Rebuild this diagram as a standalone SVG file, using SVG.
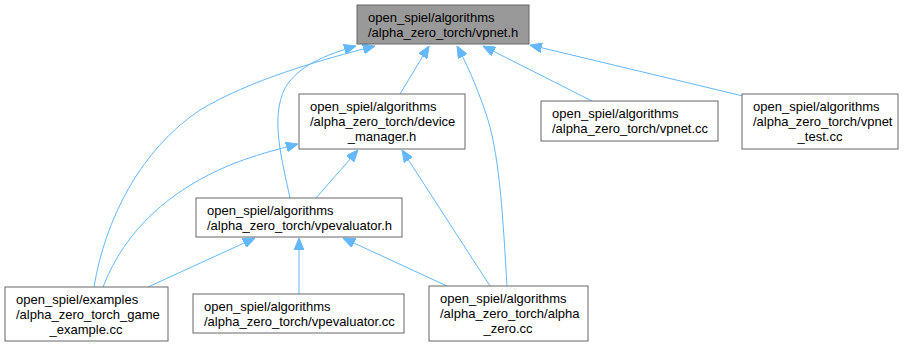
<svg xmlns="http://www.w3.org/2000/svg" width="909" height="347" viewBox="0 0 909 347">
  <style>
    .node rect { fill: #ffffff; stroke: #666666; stroke-width: 1; }
    .node.current rect { fill: #999999; }
    .node text { font-family: "Liberation Sans", Arial, Helvetica, sans-serif; font-size: 13px; fill: #000000; }
    .node text.c { text-anchor: middle; }
    .edges path { fill: none; stroke: #63b8ff; stroke-width: 1; marker-end: url(#arrow); }
  </style>
  <defs>
    <marker id="arrow" markerUnits="userSpaceOnUse" markerWidth="12" markerHeight="10" viewBox="0 0 12 10" refX="12" refY="5" orient="auto">
      <path d="M0,0 L12,5 L0,10 z" fill="#63b8ff" stroke="#63b8ff" stroke-width="1"/>
    </marker>
  </defs>
  <rect width="909" height="347" fill="#ffffff"/>

  <g class="edges">
    <!-- include dependencies: arrows point at the included header -->
    <path d="M400,94 L429,46"/>
    <path d="M290,198 C282,160 270,118 285,88 C298,66 325,55 356,46"/>
    <path d="M94,287 C105,220 140,150 200,110 C250,80 320,60 375,46"/>
    <path d="M507,286 C503,220 500,160 488,120 C480,95 470,70 457,46"/>
    <path d="M592,101 L483,46"/>
    <path d="M743,96 L530,45"/>
    <path d="M316,198 L358,150"/>
    <path d="M103,287 C125,230 170,190 230,165 C255,155 275,150 298,144"/>
    <path d="M490,286 L402,150"/>
    <path d="M148,287 L255,238"/>
    <path d="M299,294 L299,238"/>
    <path d="M447,286 L343,238"/>
  </g>

  <g id="vpnet_h" class="node current">
    <rect x="357" y="5" width="172" height="39"/>
    <text x="368" y="22">open_spiel/algorithms</text>
    <text x="368" y="37">/alpha_zero_torch/vpnet.h</text>
  </g>

  <g id="device_manager_h" class="node">
    <rect x="299" y="94" width="166" height="55"/>
    <text x="310" y="111">open_spiel/algorithms</text>
    <text x="310" y="126">/alpha_zero_torch/device</text>
    <text x="382" y="141" class="c">_manager.h</text>
  </g>

  <g id="vpnet_cc" class="node">
    <rect x="541" y="101" width="177" height="40"/>
    <text x="552" y="118">open_spiel/algorithms</text>
    <text x="552" y="133">/alpha_zero_torch/vpnet.cc</text>
  </g>

  <g id="vpnet_test_cc" class="node">
    <rect x="742" y="94" width="156" height="55"/>
    <text x="753" y="111">open_spiel/algorithms</text>
    <text x="753" y="126">/alpha_zero_torch/vpnet</text>
    <text x="820" y="141" class="c">_test.cc</text>
  </g>

  <g id="vpevaluator_h" class="node">
    <rect x="196" y="198" width="206" height="39"/>
    <text x="207" y="215">open_spiel/algorithms</text>
    <text x="207" y="230">/alpha_zero_torch/vpevaluator.h</text>
  </g>

  <g id="game_example_cc" class="node">
    <rect x="5" y="287" width="163" height="54"/>
    <text x="16" y="304">open_spiel/examples</text>
    <text x="16" y="319">/alpha_zero_torch_game</text>
    <text x="86" y="334" class="c">_example.cc</text>
  </g>

  <g id="vpevaluator_cc" class="node">
    <rect x="193" y="294" width="211" height="39"/>
    <text x="204" y="311">open_spiel/algorithms</text>
    <text x="204" y="326">/alpha_zero_torch/vpevaluator.cc</text>
  </g>

  <g id="alpha_zero_cc" class="node">
    <rect x="429" y="286" width="159" height="55"/>
    <text x="440" y="303">open_spiel/algorithms</text>
    <text x="440" y="318">/alpha_zero_torch/alpha</text>
    <text x="508" y="333" class="c">_zero.cc</text>
  </g>
</svg>
